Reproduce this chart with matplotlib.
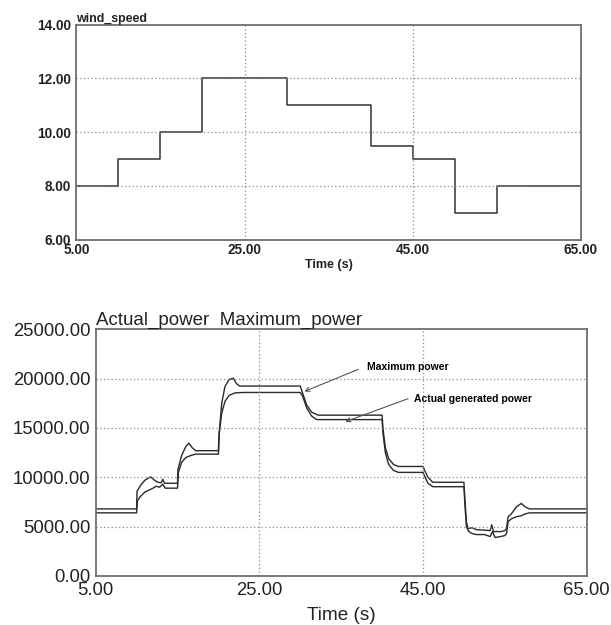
import numpy as np
import matplotlib
matplotlib.use('Agg')
import matplotlib.pyplot as plt

# 风速阶跃输入 (m/s)
wind_t = [5, 10, 15, 20, 30, 40, 45, 50, 55, 65]
wind_v = [8, 9, 10, 12, 11, 9.5, 9, 7, 8, 8]

# 最大功率曲线 (W)
t_max = [5, 10, 10.05, 10.5, 11, 11.7, 12.2, 12.6, 13.0, 13.2, 13.4, 15,
         15.05, 15.5, 16, 16.4, 16.8, 17.2, 20,
         20.05, 20.4, 20.8, 21.3, 21.8, 22.2, 22.6, 30,
         30.3, 30.8, 31.4, 32.2, 40,
         40.1, 40.4, 40.8, 41.4, 42, 45,
         45.2, 45.6, 46.2, 50,
         50.1, 50.3, 50.5, 51, 51.5, 52.5, 53.2, 53.4, 53.6, 54.5, 55,
         55.2, 55.4, 55.8, 56.4, 57, 57.5, 58, 65]
p_max = [6800, 6800, 8600, 9200, 9700, 10050, 9700, 9500, 9450, 9800, 9400, 9400,
         10800, 12200, 13100, 13450, 13000, 12700, 12700,
         14000, 17500, 19200, 19900, 20050, 19500, 19250, 19250,
         18500, 17300, 16600, 16300, 16300,
         15000, 13000, 11900, 11300, 11100, 11100,
         10700, 10000, 9500, 9500,
         8000, 5500, 4800, 4900, 4700, 4650, 4600, 5200, 4500, 4500, 4600,
         4800, 6000, 6300, 7000, 7350, 7000, 6800, 6800]

# 实际发电功率曲线 (W)
t_act = [5, 10, 10.1, 10.4, 11, 12, 12.4, 12.8, 13.2, 13.5, 14, 15,
         15.1, 15.5, 16, 16.6, 17.2, 20,
         20.1, 20.4, 20.8, 21.3, 22, 23, 30,
         30.3, 30.8, 31.4, 32, 40,
         40.1, 40.4, 40.8, 41.4, 42, 45,
         45.2, 45.6, 46.2, 50,
         50.1, 50.3, 50.6, 51, 51.5, 52.5, 53.2, 53.5, 53.8, 54.5, 55,
         55.2, 55.4, 55.8, 56.4, 57, 57.5, 58, 65]
p_act = [6400, 6400, 7600, 8000, 8500, 8900, 9100, 9000, 9300, 8900, 8900, 8900,
         10500, 11500, 12000, 12200, 12350, 12350,
         14500, 16500, 17700, 18300, 18550, 18600, 18600,
         18200, 17000, 16200, 15850, 15850,
         14500, 12500, 11300, 10700, 10500, 10500,
         10100, 9400, 9050, 9050,
         7500, 5000, 4500, 4300, 4200, 4200, 4000, 4500, 3900, 4000, 4100,
         4300, 5500, 5800, 6000, 6100, 6300, 6400, 6400]

plt.rcParams['font.family'] = ['Liberation Sans', 'DejaVu Sans']

fig = plt.figure(figsize=(6.11, 6.25), dpi=100)
grid_kw = dict(color='#8a8a8a', linestyle=(0, (1, 2)), linewidth=0.9)
spine_c = '#6e6e6e'

# ---------- 上图：风速 ----------
ax1 = fig.add_axes([0.1249, 0.6165, 0.826, 0.344])
ax1.step(wind_t, wind_v, where='post', color='#333333', linewidth=1.1)
ax1.set_xlim(5, 65)
ax1.set_ylim(6, 14)
ax1.set_xticks([5, 25, 45, 65])
ax1.set_yticks([6, 8, 10, 12, 14])
ax1.xaxis.set_major_formatter(matplotlib.ticker.FormatStrFormatter('%.2f'))
ax1.yaxis.set_major_formatter(matplotlib.ticker.FormatStrFormatter('%.2f'))
ax1.tick_params(length=0, labelsize=9.8, pad=4)
ax1.tick_params(axis='x', pad=2.5)
for lab in ax1.get_xticklabels() + ax1.get_yticklabels():
    lab.set_fontweight('bold')
    lab.set_color('#222222')
for y in [8, 10, 12]:
    ax1.axhline(y, **grid_kw)
for x in [25, 45]:
    ax1.axvline(x, **grid_kw)
for s in ax1.spines.values():
    s.set_color(spine_c)
    s.set_linewidth(1.3)
ax1.set_title('wind_speed', loc='left', fontsize=8.9, fontweight='bold', pad=2, color='#222222')
ax1.set_xlabel('Time (s)', fontsize=9, fontweight='bold', labelpad=1.5, color='#222222')

# ---------- 下图：功率 ----------
ax2 = fig.add_axes([0.1566, 0.0784, 0.8036, 0.3947])
ax2.plot(t_max, p_max, color='#2a2a2a', linewidth=1.0)
ax2.plot(t_act, p_act, color='#2a2a2a', linewidth=1.0)
ax2.set_xlim(5, 65)
ax2.set_ylim(0, 25000)
ax2.set_xticks([5, 25, 45, 65])
ax2.set_yticks([0, 5000, 10000, 15000, 20000, 25000])
ax2.xaxis.set_major_formatter(matplotlib.ticker.FormatStrFormatter('%.2f'))
ax2.yaxis.set_major_formatter(matplotlib.ticker.FormatStrFormatter('%.2f'))
ax2.tick_params(length=0, labelsize=13.3, pad=4, labelcolor='#222222')
ax2.tick_params(axis='x', pad=4.5)
for y in [5000, 10000, 15000, 20000]:
    ax2.axhline(y, **grid_kw)
for x in [25, 45]:
    ax2.axvline(x, **grid_kw)
for s in ax2.spines.values():
    s.set_color(spine_c)
    s.set_linewidth(1.3)
ax2.set_title('Actual_power  Maximum_power', loc='left', fontsize=13.5, pad=2, color='#222222')
ax2.set_xlabel('Time (s)', fontsize=13.7, labelpad=5.5, color='#222222')

arrow_kw = dict(arrowstyle='->', color='#555555', lw=0.8, shrinkA=0, shrinkB=0)
ax2.annotate('Maximum power', xy=(30.5, 18700), xytext=(38.1, 21150),
             fontsize=7.5, fontweight='bold', va='center', ha='left',
             arrowprops=dict(arrow_kw, relpos=(-0.1, 0.3)))
ax2.annotate('Actual generated power', xy=(35.5, 15640), xytext=(43.9, 17970),
             fontsize=7.5, fontweight='bold', va='center', ha='left',
             arrowprops=dict(arrow_kw, relpos=(-0.05, 0.5)))

fig.savefig('out.png', dpi=100, facecolor='white')
